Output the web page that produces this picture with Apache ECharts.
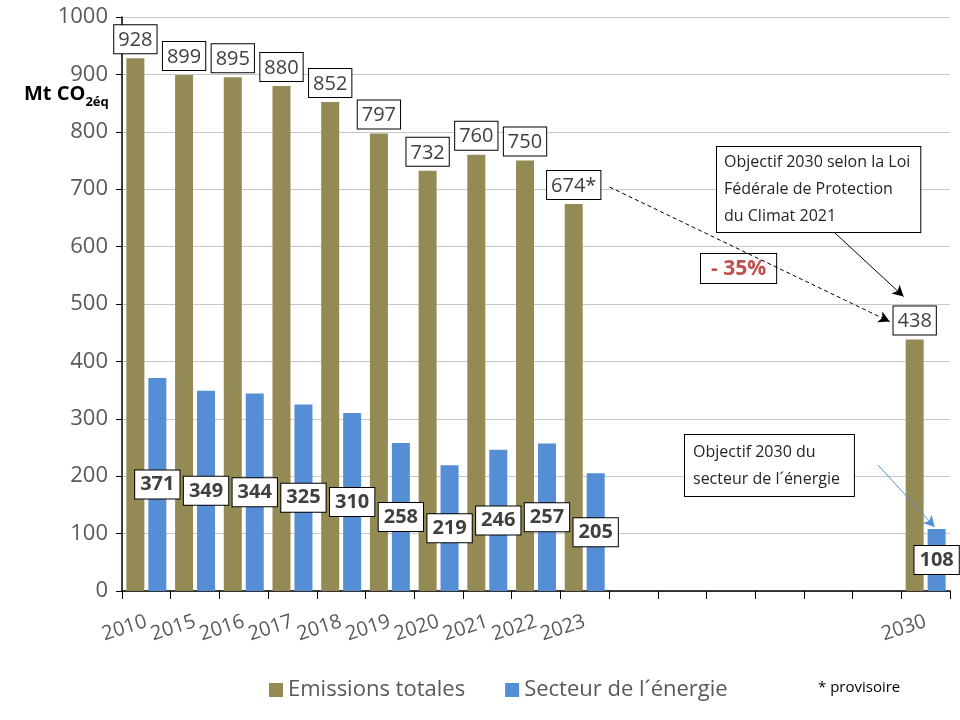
<!DOCTYPE html>
<html>
<head>
<meta charset="utf-8">
<script src="https://cdn.jsdelivr.net/npm/echarts@6/dist/echarts.min.js"></script>
<style>
html, body { margin: 0; background: #fff; }
#chart { width: 960px; height: 720px; }
</style>
</head>
<body>
<div id="chart"></div>
<script>
// categories: six empty slots stand for the years between 2023 and 2030
const years = ['2010', '2015', '2016', '2017', '2018', '2019', '2020', '2021', '2022', '2023',
    '', '', '', '', '', '', '2030'];
const totalEmissions = [928, 899, 895, 880, 852, 797, 732, 760, 750, 674,
    null, null, null, null, null, null, 438];
const energySector = [371, 349, 344, 325, 310, 258, 219, 246, 257, 205,
    null, null, null, null, null, null, 108];
const provisionalYear = '2023';
const targetYear = '2030';

const colors = ['#948A54', '#558ED5'];
const font = '"Open Sans", "Noto Sans", sans-serif';

var chartDom = document.getElementById('chart');
var myChart = echarts.init(chartDom);
var option;

option = {
    animation: false,
    color: colors,
    textStyle: { fontFamily: font },
    grid: {
        left: 122,
        right: 10,
        top: 17,
        bottom: 129
    },
    legend: {
        bottom: 14,
        left: 264,
        itemWidth: 14,
        itemHeight: 14,
        itemGap: 40,
        icon: 'rect',
        textStyle: { fontSize: 22, color: '#595959', fontFamily: font },
        data: ['Emissions totales', 'Secteur de l´énergie']
    },
    xAxis: {
        type: 'category',
        data: years,
        axisLine: { lineStyle: { color: '#000', width: 1.5 } },
        axisTick: { show: true, length: 8, lineStyle: { color: '#000' } },
        axisLabel: {
            interval: 0,
            rotate: 18,
            margin: 30,
            fontSize: 20,
            color: '#595959'
        }
    },
    yAxis: {
        type: 'value',
        min: 0,
        max: 1000,
        interval: 100,
        axisLine: { show: true, lineStyle: { color: '#000', width: 1.5 } },
        axisTick: { show: true, length: 6, lineStyle: { color: '#000' } },
        axisLabel: { fontSize: 22, color: '#595959', margin: 14, formatter: v => String(v) },
        splitLine: { lineStyle: { color: '#C8C8C8' } }
    },
    series: [
        {
            name: 'Emissions totales',
            type: 'bar',
            barWidth: 18,
            barGap: '22%',
            data: totalEmissions,
            label: {
                show: true,
                position: 'top',
                distance: 5,
                fontSize: 20,
                color: '#404040',
                backgroundColor: '#fff',
                borderColor: '#000',
                borderWidth: 1,
                padding: [5, 4, 3, 4],
                formatter: p => p.value + (p.name === provisionalYear ? '*' : '')
            }
        },
        {
            name: 'Secteur de l´énergie',
            type: 'bar',
            barWidth: 18,
            data: energySector,
            label: {
                show: true,
                position: 'inside',
                fontSize: 20,
                fontWeight: 'bold',
                color: '#404040',
                backgroundColor: '#fff',
                borderColor: '#000',
                borderWidth: 1,
                padding: [5, 5, 3, 5]
            }
        }
    ]
};
option && myChart.setOption(option);

// annotations, placed from the data positions of 2023 and 2030
const at = (cat, v) => myChart.convertToPixel({ gridIndex: 0 }, [cat, v]);
const p2023 = at(provisionalYear, totalEmissions[9]);
const p2030 = at(targetYear, totalEmissions[16]);
const e2030 = at(targetYear, energySector[16]);

const arrowLine = (a, b, style) => [
    { x: a[0], y: a[1], lineStyle: style },
    { x: b[0], y: b[1] }
];

myChart.setOption({
    series: [{
        markLine: {
            silent: true,
            symbol: ['none', 'arrow'],
            symbolSize: [9, 11],
            label: { show: false },
            data: [
                arrowLine([p2023[0] + 25, p2023[1] - 17], [p2030[0] - 36, p2030[1] - 18],
                    { color: '#000', type: [4, 3], width: 1 }),
                arrowLine([835, 233], [p2030[0] - 22, p2030[1] - 43],
                    { color: '#000', type: 'solid', width: 1 }),
                arrowLine([878, 465], [e2030[0] + 9, e2030[1] - 2],
                    { color: '#558ED5', type: 'solid', width: 1 })
            ]
        }
    }],
    graphic: [
        {
            type: 'text',
            left: 24,
            top: 84,
            style: {
                text: '{a|Mt CO}{b|2éq}',
                rich: {
                    a: { fontSize: 20, fontWeight: 'bold', fill: '#000', fontFamily: font, lineHeight: 24, verticalAlign: 'bottom' },
                    b: { fontSize: 13, fontWeight: 'bold', fill: '#000', fontFamily: font, lineHeight: 15, verticalAlign: 'bottom', padding: [0, 0, -5, 0] }
                }
            }
        },
        {
            type: 'text',
            left: 716,
            top: 146,
            style: {
                text: 'Objectif 2030 selon la Loi\nFédérale de Protection\ndu Climat 2021',
                font: '16px ' + font,
                lineHeight: 27,
                fill: '#262626',
                backgroundColor: '#fff',
                borderColor: '#000',
                borderWidth: 1,
                padding: [2, 10, 2, 7]
            }
        },
        {
            type: 'text',
            left: 700,
            top: 253,
            style: {
                text: '- 35%',
                font: 'bold 21px ' + font,
                fill: '#C0504D',
                backgroundColor: '#fff',
                borderColor: '#000',
                borderWidth: 1,
                padding: [5, 10, 3, 10]
            }
        },
        {
            type: 'text',
            left: 684,
            top: 434,
            style: {
                text: 'Objectif 2030 du\nsecteur de l´énergie',
                font: '16px ' + font,
                lineHeight: 27,
                fill: '#262626',
                backgroundColor: '#fff',
                borderColor: '#000',
                borderWidth: 1,
                padding: [4, 14, 3, 8]
            }
        },
        {
            type: 'text',
            left: 818,
            top: 680,
            style: {
                text: '* provisoire',
                font: '15px ' + font,
                fill: '#000'
            }
        }
    ]
});
</script>
</body>
</html>
